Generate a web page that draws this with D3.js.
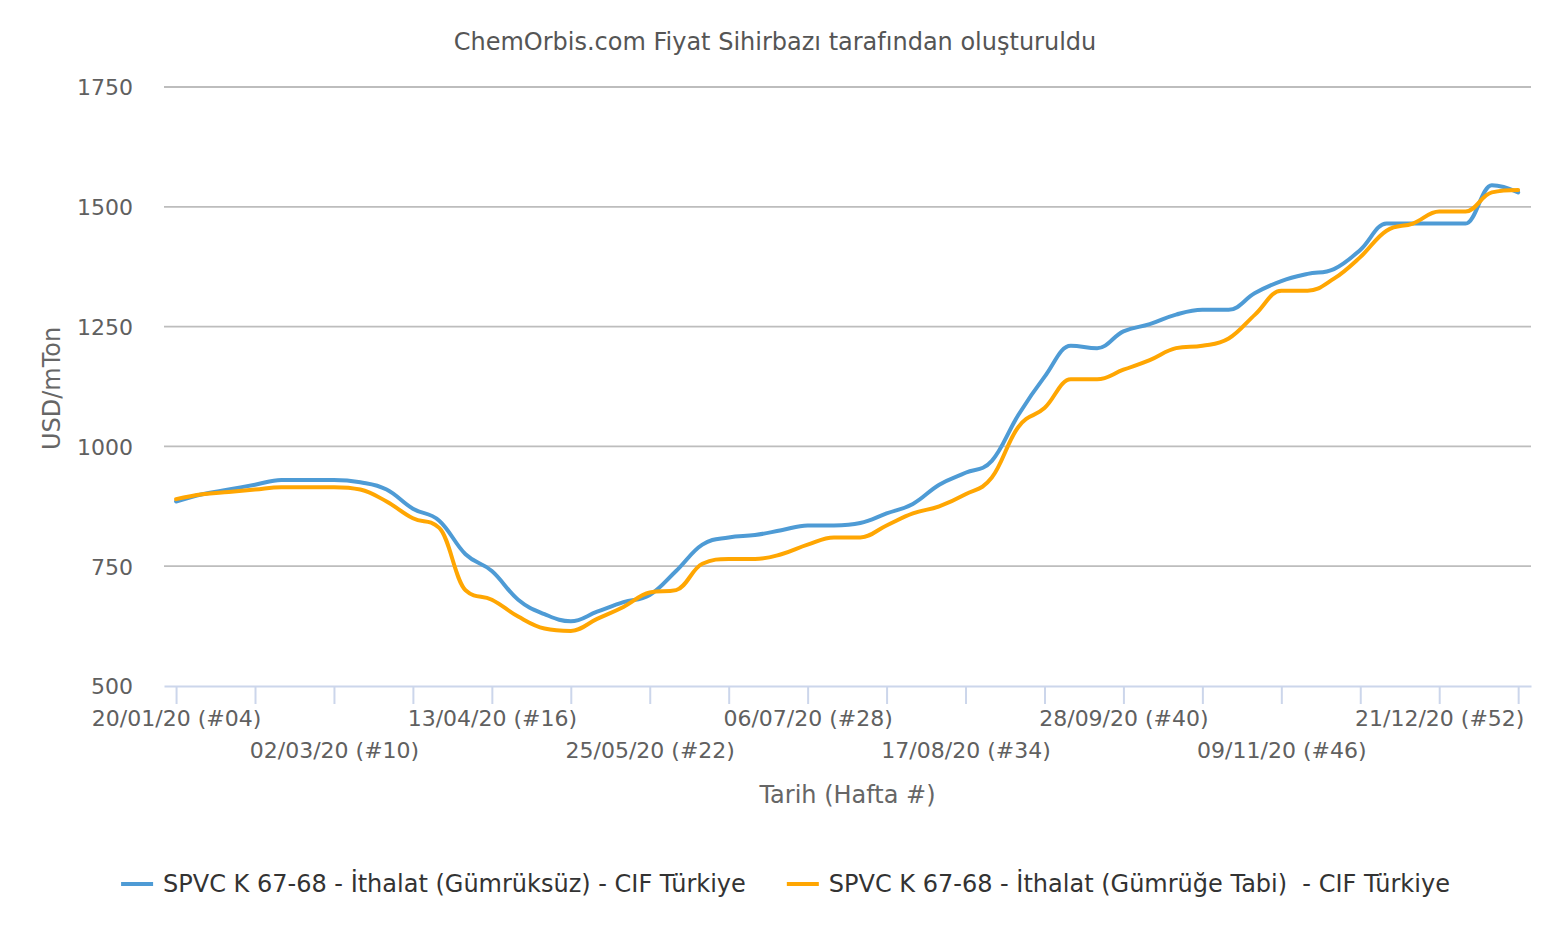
<!DOCTYPE html>
<html>
<head>
<meta charset="utf-8">
<script src="https://cdn.jsdelivr.net/npm/d3@7"></script>
<style>
  body { margin: 0; background: #fff; }
  svg { display: block; font-family: "DejaVu Sans", sans-serif; }
</style>
</head>
<body>
<div id="chart"></div>
<script>
// Week start dates (Mondays), ISO weeks 4 of 2020 to 2 of 2021
var weekDates = [
  "2020-01-20", "2020-01-27", "2020-02-03", "2020-02-10", "2020-02-17", "2020-02-24",
  "2020-03-02", "2020-03-09", "2020-03-16", "2020-03-23", "2020-03-30", "2020-04-06",
  "2020-04-13", "2020-04-20", "2020-04-27", "2020-05-04", "2020-05-11", "2020-05-18",
  "2020-05-25", "2020-06-01", "2020-06-08", "2020-06-15", "2020-06-22", "2020-06-29",
  "2020-07-06", "2020-07-13", "2020-07-20", "2020-07-27", "2020-08-03", "2020-08-10",
  "2020-08-17", "2020-08-24", "2020-08-31", "2020-09-07", "2020-09-14", "2020-09-21",
  "2020-09-28", "2020-10-05", "2020-10-12", "2020-10-19", "2020-10-26", "2020-11-02",
  "2020-11-09", "2020-11-16", "2020-11-23", "2020-11-30", "2020-12-07", "2020-12-14",
  "2020-12-21", "2020-12-28", "2021-01-04", "2021-01-11"
];

// SPVC K 67-68 - İthalat (Gümrüksüz) - CIF Türkiye
var dutyFree = [
  885, 900, 910, 920, 930, 930, 930, 925, 910, 870, 845, 775,
  740, 680, 650, 635, 655, 675, 690, 740, 795, 810, 815, 825,
  835, 835, 840, 860, 880, 920, 945, 970, 1065, 1145, 1210, 1205,
  1240, 1255, 1275, 1285, 1285, 1320, 1345, 1360, 1370, 1410, 1465, 1465,
  1465, 1465, 1545, 1530
];

// SPVC K 67-68 - İthalat (Gümrüğe Tabi) - CIF Türkiye
var dutyPaid = [
  890, 900, 905, 910, 915, 915, 915, 910, 885, 850, 830, 700,
  680, 645, 620, 615, 640, 665, 695, 700, 755, 765, 765, 775,
  795, 810, 810, 835, 860, 875, 900, 935, 1040, 1080, 1140, 1140,
  1160, 1180, 1205, 1210, 1225, 1275, 1325, 1325, 1350, 1395, 1450, 1465,
  1490, 1490, 1530, 1535
];

var seriesNames = [
  "SPVC K 67-68 - İthalat (Gümrüksüz) - CIF Türkiye",
  "SPVC K 67-68 - İthalat (Gümrüğe Tabi)  - CIF Türkiye"
];
var seriesColors = ["#4e9bd5", "#ffa602"];

var yTicks = [500, 750, 1000, 1250, 1500, 1750];

// one tick every 3 weeks, label every 6 weeks
var xTickLabels = [
  "20/01/20 (#04)", "", "02/03/20 (#10)", "", "13/04/20 (#16)", "",
  "25/05/20 (#22)", "", "06/07/20 (#28)", "", "17/08/20 (#34)", "",
  "28/09/20 (#40)", "", "09/11/20 (#46)", "", "21/12/20 (#52)", ""
];

var width = 1552, height = 930;
var plot = { left: 164, right: 1531, top: 87, bottom: 686 };

var parse = d3.timeParse("%Y-%m-%d");
var dates = weekDates.map(parse);
var tickDates = dates.filter(function(d, i) { return i % 3 === 0; });

var svg = d3.select("#chart").append("svg")
    .attr("width", width)
    .attr("height", height);

var x = d3.scaleTime()
    .domain([d3.timeHour.offset(dates[0], -77), d3.timeHour.offset(dates[dates.length - 1], 82)])
    .range([plot.left, plot.right]);

var y = d3.scaleLinear()
    .domain([500, 1750])
    .range([plot.bottom, plot.top]);

// Title
svg.append("text")
    .attr("x", 775)
    .attr("y", 50)
    .attr("text-anchor", "middle")
    .style("font-size", "24px")
    .style("fill", "#555")
    .text("ChemOrbis.com Fiyat Sihirbazı tarafından oluşturuldu");

// Grid lines
svg.append("g")
    .selectAll("line")
    .data(yTicks.slice(1))
    .enter().append("line")
    .attr("x1", plot.left)
    .attr("x2", plot.right)
    .attr("y1", function(d) { return y(d); })
    .attr("y2", function(d) { return y(d); })
    .attr("stroke", "#bdbdbd")
    .attr("stroke-width", 1.8);

// Y axis labels
var yAxis = d3.axisLeft(y).tickValues(yTicks).tickSize(0).tickPadding(0).tickFormat(d3.format("d"));
var yG = svg.append("g")
    .attr("transform", "translate(133,0)")
    .call(yAxis);
yG.select(".domain").remove();
yG.selectAll("text")
    .attr("dy", "0.36em")
    .style("font-family", "DejaVu Sans")
    .style("font-size", "22px")
    .style("fill", "#606060");

// Y axis title
svg.append("text")
    .attr("transform", "translate(60," + ((plot.top + plot.bottom) / 2 + 2) + ") rotate(-90)")
    .attr("text-anchor", "middle")
    .style("font-size", "24px")
    .style("fill", "#666")
    .text("USD/mTon");

// X axis
var xAxis = d3.axisBottom(x)
    .tickValues(tickDates)
    .tickSize(18)
    .tickSizeOuter(0)
    .tickFormat(function(d, i) { return xTickLabels[i]; });
var xG = svg.append("g")
    .attr("transform", "translate(0," + plot.bottom + ")")
    .call(xAxis);
xG.select(".domain").attr("stroke", "#ccd6eb").attr("stroke-width", 2);
xG.selectAll(".tick line").attr("stroke", "#ccd6eb").attr("stroke-width", 2);
xG.selectAll(".tick text")
    .attr("y", function(d, i) { return (i % 4 === 0) ? 40 : 72; })
    .attr("dy", 0)
    .style("font-family", "DejaVu Sans")
    .style("font-size", "22px")
    .style("fill", "#606060");

// X axis title
svg.append("text")
    .attr("x", (plot.left + plot.right) / 2)
    .attr("y", 803)
    .attr("text-anchor", "middle")
    .style("font-size", "24px")
    .style("fill", "#666")
    .text("Tarih (Hafta #)");

// Highcharts-like spline through the points
function splinePath(pts) {
    var smoothing = 1.5, denom = 2.5;
    var path = d3.path();
    var rc = [];
    pts.forEach(function(p, i) {
        var prev = pts[i - 1], next = pts[i + 1];
        var lcx = p[0], lcy = p[1];
        rc[i] = null;
        if (prev && next) {
            lcx = (smoothing * p[0] + prev[0]) / denom;
            lcy = (smoothing * p[1] + prev[1]) / denom;
            var rcx = (smoothing * p[0] + next[0]) / denom;
            var rcy = (smoothing * p[1] + next[1]) / denom;
            if (rcx !== lcx) {
                var corr = ((rcy - lcy) * (rcx - p[0])) / (rcx - lcx) + p[1] - rcy;
                lcy += corr;
                rcy += corr;
                if (lcy > prev[1] && lcy > p[1]) {
                    lcy = Math.max(prev[1], p[1]);
                    rcy = 2 * p[1] - lcy;
                } else if (lcy < prev[1] && lcy < p[1]) {
                    lcy = Math.min(prev[1], p[1]);
                    rcy = 2 * p[1] - lcy;
                }
                if (rcy > next[1] && rcy > p[1]) {
                    rcy = Math.max(next[1], p[1]);
                    lcy = 2 * p[1] - rcy;
                } else if (rcy < next[1] && rcy < p[1]) {
                    rcy = Math.min(next[1], p[1]);
                    lcy = 2 * p[1] - rcy;
                }
            }
            rc[i] = [rcx, rcy];
        }
        if (i === 0) {
            path.moveTo(p[0], p[1]);
        } else {
            var c1 = rc[i - 1] || prev;
            path.bezierCurveTo(c1[0], c1[1], lcx, lcy, p[0], p[1]);
        }
    });
    return path.toString();
}

var seriesData = [dutyFree, dutyPaid];
var lines = svg.append("g");
seriesData.forEach(function(vals, s) {
    var pts = vals.map(function(v, i) { return [x(dates[i]), y(v)]; });
    lines.append("path")
        .attr("d", splinePath(pts))
        .attr("fill", "none")
        .attr("stroke", seriesColors[s])
        .attr("stroke-width", 4)
        .attr("stroke-linejoin", "round")
        .attr("stroke-linecap", "round");
});

// Legend
var legend = svg.append("g");
var items = legend.selectAll("g")
    .data(seriesNames)
    .enter().append("g");
items.append("line")
    .attr("x1", 0).attr("x2", 32)
    .attr("y1", 884).attr("y2", 884)
    .attr("stroke", function(d, i) { return seriesColors[i]; })
    .attr("stroke-width", 4);
items.append("text")
    .attr("x", 42)
    .attr("y", 892)
    .style("font-size", "24px")
    .style("fill", "#333")
    .style("white-space", "pre")
    .text(function(d) { return d; });
var offsets = [], total = 0;
items.each(function(d, i) {
    var w = 42 + this.querySelector("text").getComputedTextLength();
    offsets.push(total);
    total += w + (i < seriesNames.length - 1 ? 41 : 0);
});
var startX = 785.5 - total / 2;
items.attr("transform", function(d, i) { return "translate(" + (startX + offsets[i]) + ",0)"; });
</script>
</body>
</html>
